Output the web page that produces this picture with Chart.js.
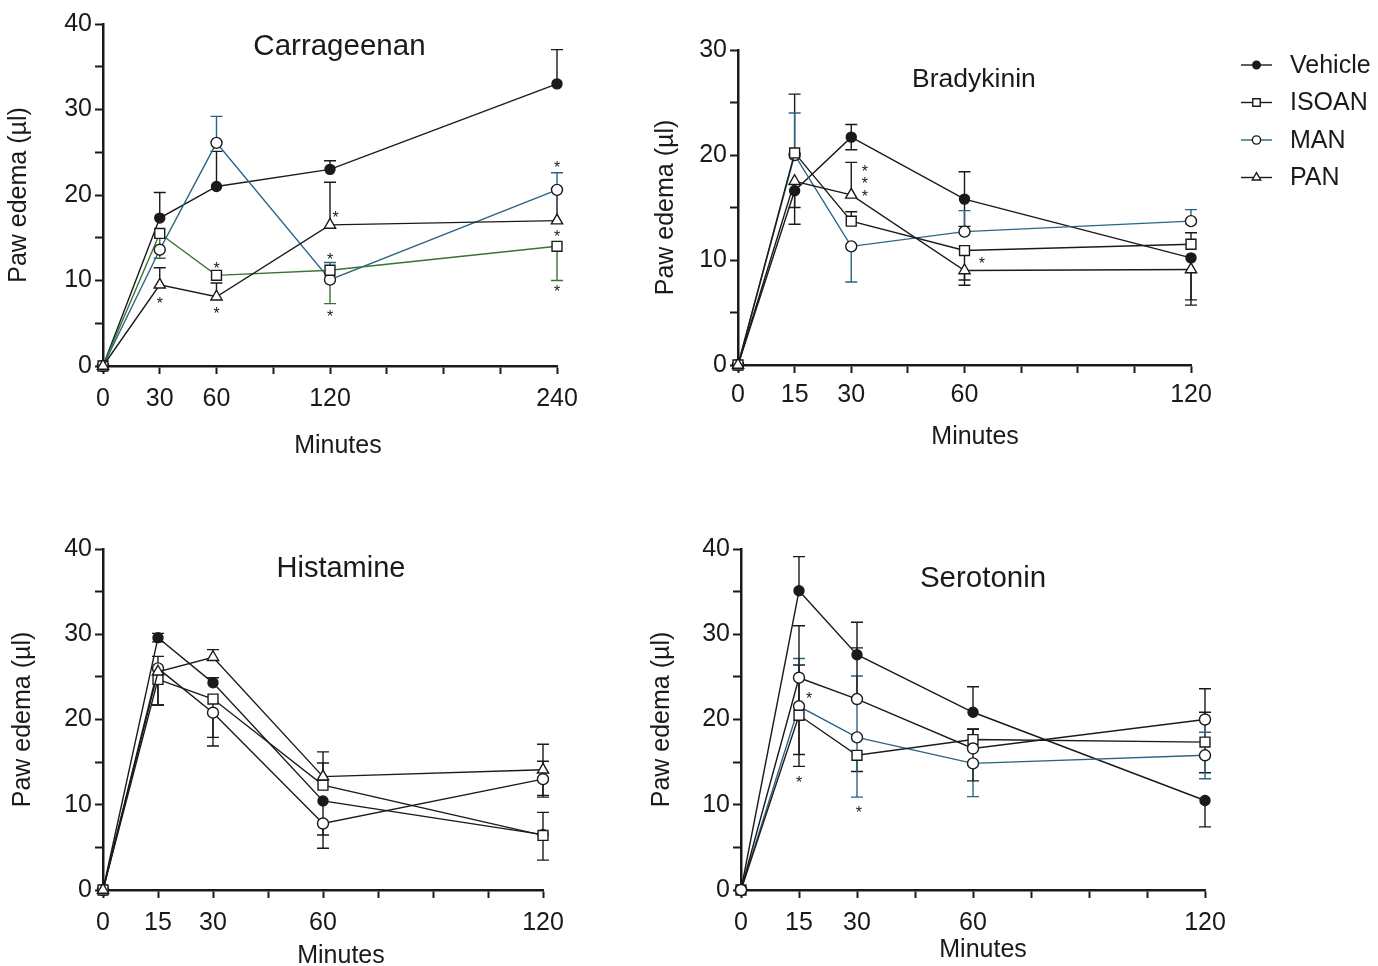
<!DOCTYPE html>
<html>
<head>
<meta charset="utf-8">
<script src="https://cdn.jsdelivr.net/npm/chart.js@4.4.1/dist/chart.umd.min.js"></script>
<style>
  body { margin: 0; background: #fff; width: 1378px; height: 966px; position: relative; overflow: hidden; }
  canvas { position: absolute; }
</style>
</head>
<body>
<canvas id="c-carr" width="600" height="470" style="left:0;top:0"></canvas>
<canvas id="c-brady" width="731" height="470" style="left:647px;top:0"></canvas>
<canvas id="c-hist" width="590" height="490" style="left:4px;top:490px"></canvas>
<canvas id="c-sero" width="735" height="490" style="left:643px;top:490px"></canvas>
<script>
// Paw edema time courses, mean with SEM bars given as [above, below]
const FONT = 'Arial, "Liberation Sans", Helvetica, sans-serif';
const INK = '#1a1a1a';
const BLUE = '#2b6485';
const GREEN = '#3b7232';

// ── Carrageenan ──
const carrMinutes = [0, 30, 60, 120, 240];
const carrTickLabels = [0, 30, 60, 120, 240];
const carrVehicle = [0, 17.3, 21.0, 23.0, 33.0];
const carrVehicleErr = [[0, 0], [3.0, 0], [4.1, 0], [1.0, 0], [4.0, 0]];
const carrIsoan = [0, 15.5, 10.6, 11.2, 14.0];
const carrIsoanErr = [[0, 0], [0, 2.9], [0, 0], [0, 3.9], [0, 4.0]];
const carrMan = [0, 13.6, 26.1, 10.1, 20.6];
const carrManErr = [[0, 0], [0, 0], [3.1, 0], [2.0, 0], [2.0, 0]];
const carrPan = [0, 9.5, 8.1, 16.5, 17.0];
const carrPanErr = [[0, 0], [2.0, 0], [1.6, 0], [5.0, 0], [3.6, 0]];
const carrStars = [[30, 7.7], [60, 11.8], [60, 6.5], [123, 17.8], [120, 12.9], [120, 6.2], [240, 23.6], [240, 15.6], [240, 9.1]];

// ── Bradykinin ──
const bradyMinutes = [0, 15, 30, 60, 120];
const bradyTickLabels = [0, 15, 30, 60, 120];
const bradyVehicle = [0, 16.6, 21.7, 15.8, 10.2];
const bradyVehicleErr = [[0, 0], [0, 3.2], [1.2, 1.2], [2.6, 2.6], [0, 4.0]];
const bradyIsoan = [0, 20.2, 13.7, 10.9, 11.5];
const bradyIsoanErr = [[0, 0], [5.6, 0], [0.9, 0], [0, 2.8], [1.1, 0]];
const bradyMan = [0, 20.0, 11.3, 12.7, 13.7];
const bradyManErr = [[0, 0], [4.0, 0], [0, 3.4], [2.0, 0], [1.1, 0]];
const bradyPan = [0, 17.5, 16.2, 9.0, 9.1];
const bradyPanErr = [[0, 0], [0, 2.5], [3.1, 0], [0, 1.4], [0, 3.4]];
const bradyStars = [[33.6, 18.8], [33.6, 17.6], [33.6, 16.4], [64.6, 10.0]];

// ── Histamine ──
const histMinutes = [0, 15, 30, 60, 120];
const histTickLabels = [0, 15, 30, 60, 120];
const histVehicle = [0, 29.6, 24.3, 10.45, 6.5];
const histVehicleErr = [[0, 0], [0.5, 0.5], [0.6, 0], [0, 4.0], [0, 0]];
const histIsoan = [0, 24.7, 22.4, 12.3, 6.4];
const histIsoanErr = [[0, 0], [0, 3.0], [0, 4.5], [2.6, 0], [2.7, 2.9]];
const histMan = [0, 26.0, 20.8, 7.8, 13.0];
const histManErr = [[0, 0], [0, 4.3], [0, 3.9], [0, 2.9], [2.1, 2.1]];
const histPan = [0, 25.6, 27.3, 13.3, 14.1];
const histPanErr = [[0, 0], [1.8, 0], [0.9, 0], [2.9, 0], [3.0, 3.0]];
const histStars = [];

// ── Serotonin ──
const seroMinutes = [0, 15, 30, 60, 120];
const seroTickLabels = [0, 15, 30, 60, 120];
const seroVehicle = [0, 35.1, 27.6, 20.85, 10.5];
const seroVehicleErr = [[0, 0], [4.0, 0], [3.8, 0], [3.0, 0], [0, 3.1]];
const seroIsoan = [0, 20.5, 15.8, 17.65, 17.35];
const seroIsoanErr = [[0, 0], [5.9, 4.6], [0, 1.9], [1.2, 0], [3.5, 3.6]];
const seroMan = [0, 21.55, 17.9, 14.85, 15.8];
const seroManErr = [[0, 0], [5.6, 0], [7.2, 7.0], [0, 3.9], [2.7, 2.75]];
const seroPan = [0, 24.9, 22.4, 16.6, 20.0];
const seroPanErr = [[0, 0], [6.1, 10.4], [6.0, 0], [2.3, 3.8], [3.6, 0]];
const seroStars = [[17.6, 22.9], [15, 13.0], [30.5, 9.5]];

// order: lower value is painted on top (PAN over ISOAN over MAN over Vehicle)
const STYLE = {
  Vehicle: { pointStyle: 'circle',   pointRadius: 5,   fill: INK,    color: INK,  order: 4 },
  ISOAN:   { pointStyle: 'rect',     pointRadius: 7,   fill: '#fff', color: INK,  order: 2 },
  MAN:     { pointStyle: 'circle',   pointRadius: 5.5, fill: '#fff', color: BLUE, order: 3 },
  PAN:     { pointStyle: 'triangle', pointRadius: 6.5, fill: '#fff', color: INK,  order: 1 },
};

function series(label, minutes, values, err, over = {}) {
  const s = Object.assign({}, STYLE[label], over);
  return {
    label,
    data: values.map((v, i) => ({ x: minutes[i], y: v })),
    err,
    order: s.order,
    borderColor: s.color,
    borderWidth: 1.4,
    pointStyle: s.pointStyle,
    pointRadius: s.pointRadius,
    pointHoverRadius: s.pointRadius,
    pointBorderColor: INK,
    pointBorderWidth: 1.4,
    pointBackgroundColor: s.fill,
    tension: 0,
    clip: false,
  };
}

// SEM bars under the markers
const errorBars = {
  id: 'errorBars',
  beforeDatasetsDraw(chart) {
    const { ctx, scales: { x, y } } = chart;
    ctx.save();
    ctx.lineWidth = 1.4;
    chart.data.datasets.forEach(ds => {
      ctx.strokeStyle = ds.borderColor;
      ds.data.forEach((p, i) => {
        const [up, dn] = ds.err[i];
        const px = x.getPixelForValue(p.x);
        const py = y.getPixelForValue(p.y);
        [[up, 1], [dn, -1]].forEach(([e, sign]) => {
          if (!e) return;
          const end = y.getPixelForValue(p.y + sign * e);
          ctx.beginPath();
          ctx.moveTo(px, py); ctx.lineTo(px, end);
          ctx.moveTo(px - 6, end); ctx.lineTo(px + 6, end);
          ctx.stroke();
        });
      });
    });
    ctx.restore();
  },
};

// significance asterisks, panel title, "Minutes" caption, shared legend
const annotations = {
  id: 'annotations',
  afterDatasetsDraw(chart, args, opts) {
    const { ctx, scales: { x, y }, chartArea } = chart;
    ctx.save();
    ctx.fillStyle = INK;
    ctx.font = `16px ${FONT}`;
    ctx.textAlign = 'center';
    ctx.textBaseline = 'alphabetic';
    (opts.stars || []).forEach(([mx, v]) => {
      ctx.fillText('*', x.getPixelForValue(mx), y.getPixelForValue(v) + 9);
    });

    ctx.font = `${opts.titleSize}px ${FONT}`;
    ctx.textBaseline = 'middle';
    ctx.fillText(opts.title, x.getPixelForValue(opts.titleAt[0]), y.getPixelForValue(opts.titleAt[1]));

    ctx.font = `25px ${FONT}`;
    ctx.fillText('Minutes', x.getPixelForValue(opts.captionAt[0]), chartArea.bottom + opts.captionAt[1]);

    if (opts.legend) {
      ctx.textAlign = 'left';
      const x0 = chartArea.right + 50;
      chart.data.datasets.forEach((ds, i) => {
        const ly = chartArea.top + 15 + i * 37.5;
        ctx.strokeStyle = ds.borderColor;
        ctx.lineWidth = 1.4;
        ctx.beginPath(); ctx.moveTo(x0, ly); ctx.lineTo(x0 + 31, ly); ctx.stroke();
        ctx.fillStyle = ds.pointBackgroundColor;
        ctx.strokeStyle = INK;
        ctx.beginPath();
        Chart.helpers.drawPoint(ctx, { pointStyle: ds.pointStyle, radius: ds.pointRadius * 0.75, rotation: 0, borderWidth: 1.2 }, x0 + 15.5, ly);
        ctx.fillStyle = INK;
        ctx.fillText(ds.label, x0 + 49, ly + 1);
      });
    }
    ctx.restore();
  },
};

function makePanel(id, cfg) {
  const tickFont = { family: FONT, size: 25 };
  const titleFont = { family: FONT, size: 25 };
  new Chart(document.getElementById(id), {
    type: 'line',
    data: { datasets: cfg.datasets },
    plugins: [errorBars, annotations],
    options: {
      responsive: false,
      animation: false,
      events: [],
      layout: { padding: cfg.padding },
      plugins: {
        legend: { display: false },
        tooltip: { enabled: false },
        annotations: {
          stars: cfg.stars, title: cfg.title, titleSize: cfg.titleSize, titleAt: cfg.titleAt,
          captionAt: cfg.captionAt, legend: !!cfg.legend,
        },
      },
      scales: {
        x: {
          type: 'linear', min: 0, max: cfg.xMax,
          ticks: {
            stepSize: cfg.xStep, autoSkip: false, maxRotation: 0, color: INK, font: tickFont, padding: cfg.xPad,
            callback: v => cfg.xLabels.includes(v) ? String(v) : '',
          },
          grid: { drawOnChartArea: false, tickLength: 8, tickWidth: 2, tickColor: INK },
          border: { color: INK, width: 2.5 },
          afterFit: s => { s.height = cfg.xH; },
        },
        y: {
          min: 0, max: cfg.yMax,
          ticks: {
            stepSize: 5, color: INK, font: tickFont, padding: 3,
            callback: v => v % 10 === 0 ? String(v) : '',
          },
          grid: { drawOnChartArea: false, tickLength: 8, tickWidth: 2, tickColor: INK },
          border: { color: INK, width: 2.5 },
          title: { display: true, text: 'Paw edema (µl)', color: INK, font: titleFont, padding: { top: 4, bottom: 4 } },
          afterFit: s => { s.width = cfg.yW; },
        },
      },
    },
  });
}

makePanel('c-carr', {
  datasets: [
    series('Vehicle', carrMinutes, carrVehicle, carrVehicleErr),
    series('ISOAN', carrMinutes, carrIsoan, carrIsoanErr, { color: GREEN }),
    series('MAN', carrMinutes, carrMan, carrManErr),
    series('PAN', carrMinutes, carrPan, carrPanErr),
  ],
  stars: carrStars, title: 'Carrageenan', titleSize: 29.5, titleAt: [125, 37.3], captionAt: [124.2, 80],
  xMax: 240, xStep: 30, xLabels: carrTickLabels, yMax: 40, xPad: 10,
  padding: { top: 24, right: 43, bottom: 4, left: 0 }, yW: 103, xH: 100,
});

makePanel('c-brady', {
  datasets: [
    series('Vehicle', bradyMinutes, bradyVehicle, bradyVehicleErr),
    series('ISOAN', bradyMinutes, bradyIsoan, bradyIsoanErr),
    series('MAN', bradyMinutes, bradyMan, bradyManErr),
    series('PAN', bradyMinutes, bradyPan, bradyPanErr),
  ],
  stars: bradyStars, title: 'Bradykinin', titleSize: 26.5, titleAt: [62.5, 27.2], captionAt: [62.8, 72], legend: true,
  xMax: 120, xStep: 15, xLabels: bradyTickLabels, yMax: 30, xPad: 7,
  padding: { top: 50, right: 187, bottom: 13, left: 0 }, yW: 91, xH: 92,
});

makePanel('c-hist', {
  datasets: [
    series('Vehicle', histMinutes, histVehicle, histVehicleErr),
    series('ISOAN', histMinutes, histIsoan, histIsoanErr),
    series('MAN', histMinutes, histMan, histManErr, { color: INK }),
    series('PAN', histMinutes, histPan, histPanErr),
  ],
  stars: histStars, title: 'Histamine', titleSize: 29, titleAt: [64.9, 37.6], captionAt: [64.9, 66],
  xMax: 120, xStep: 15, xLabels: histTickLabels, yMax: 40, xPad: 10,
  padding: { top: 59, right: 51, bottom: 4, left: 0 }, yW: 99, xH: 86,
});

makePanel('c-sero', {
  datasets: [
    series('Vehicle', seroMinutes, seroVehicle, seroVehicleErr),
    series('ISOAN', seroMinutes, seroIsoan, seroIsoanErr),
    series('MAN', seroMinutes, seroMan, seroManErr),
    series('PAN', seroMinutes, seroPan, seroPanErr, { pointStyle: 'circle', pointRadius: 5.5 }),
  ],
  stars: seroStars, title: 'Serotonin', titleSize: 29.5, titleAt: [62.6, 36.5], captionAt: [62.6, 60],
  xMax: 120, xStep: 15, xLabels: seroTickLabels, yMax: 40, xPad: 10,
  padding: { top: 59, right: 173, bottom: 10, left: 0 }, yW: 98, xH: 80,
});
</script>
</body>
</html>
